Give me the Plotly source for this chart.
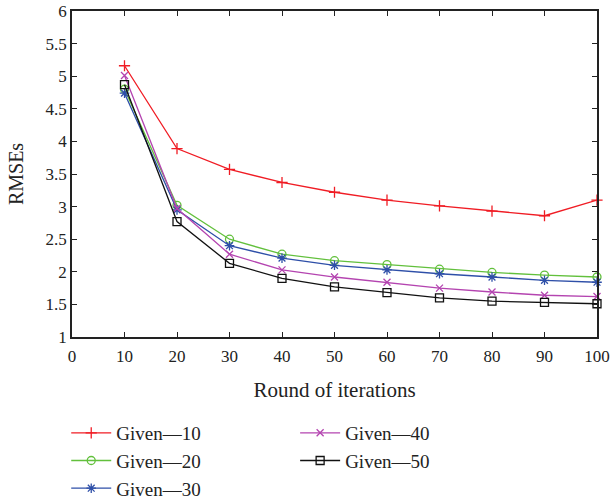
import plotly.graph_objects as go

rounds = [10, 20, 30, 40, 50, 60, 70, 80, 90, 100]
given10 = [5.16, 3.89, 3.57, 3.37, 3.22, 3.10, 3.01, 2.93, 2.86, 3.10]
given20 = [4.80, 3.02, 2.50, 2.27, 2.17, 2.11, 2.04, 1.99, 1.95, 1.92]
given30 = [4.74, 2.95, 2.40, 2.21, 2.10, 2.03, 1.97, 1.92, 1.87, 1.84]
given40 = [5.01, 2.97, 2.27, 2.03, 1.92, 1.84, 1.75, 1.69, 1.64, 1.62]
given50 = [4.87, 2.77, 2.13, 1.90, 1.77, 1.68, 1.60, 1.55, 1.53, 1.51]

x_ticks = [0, 10, 20, 30, 40, 50, 60, 70, 80, 90, 100]
y_ticks = [1, 1.5, 2, 2.5, 3, 3.5, 4, 4.5, 5, 5.5, 6]

FONT = "Liberation Serif"

series = [
    ("Given\u201410", given10, "#f01c24", "cross-thin", 8, "legend"),
    ("Given\u201420", given20, "#62c03c", "circle-open", 8, "legend"),
    ("Given\u201430", given30, "#2e4fa8", "asterisk-open", 8, "legend"),
    ("Given\u201440", given40, "#b444b0", "x-thin-open", 7, "legend2"),
    ("Given\u201450", given50, "#111111", "square-open", 8, "legend2"),
]

fig = go.Figure()
for name, vals, color, sym, size, leg in series:
    fig.add_trace(go.Scatter(
        x=rounds, y=vals, name=name, mode="lines+markers",
        line=dict(color=color, width=1.3),
        marker=dict(symbol=sym, size=size, color=color,
                    line=dict(color=color, width=1.3)),
        cliponaxis=False, legend=leg,
    ))

legfont = dict(family=FONT, size=19, color="#222222")
fig.update_layout(
    width=611, height=500,
    margin=dict(l=72, r=14, t=11, b=163, autoexpand=False),
    paper_bgcolor="white", plot_bgcolor="white",
    font=dict(family=FONT, size=17, color="#222222"),
    showlegend=True,
    legend=dict(x=-0.011, y=-0.236, xanchor="left", yanchor="top",
                font=legfont, itemwidth=40,
                tracegroupgap=0, bgcolor="rgba(0,0,0,0)"),
    legend2=dict(x=0.425, y=-0.236, xanchor="left", yanchor="top",
                 font=legfont, itemwidth=40,
                 tracegroupgap=0, bgcolor="rgba(0,0,0,0)"),
    xaxis=dict(range=[0, 100], tickvals=x_ticks, ticks="inside", ticklen=5,
               showline=True, linecolor="#222222", linewidth=1.5, mirror="ticks",
               showgrid=False, zeroline=False, tickcolor="#222222",
               tickfont=dict(family=FONT, size=17), ticklabelstandoff=3,
               title=dict(text="Round of iterations", standoff=17,
                          font=dict(family=FONT, size=21))),
    yaxis=dict(range=[1, 6], tickvals=y_ticks, ticks="inside", ticklen=5,
               showline=True, linecolor="#222222", linewidth=1.5, mirror="ticks",
               showgrid=False, zeroline=False, tickcolor="#222222",
               tickfont=dict(family=FONT, size=17),
               title=dict(text="RMSEs", standoff=17,
                          font=dict(family=FONT, size=20))),
)

fig.write_html("out.html")
